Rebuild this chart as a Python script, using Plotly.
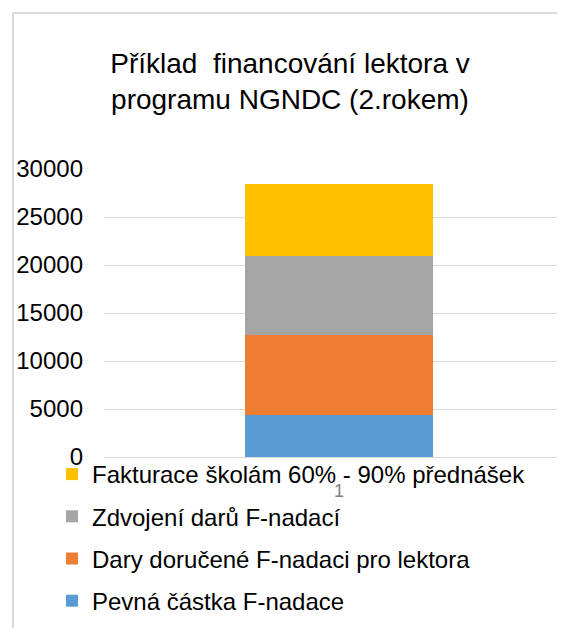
import plotly.graph_objects as go

categories = ["1"]
series_names = [
    "Pevná částka F-nadace",
    "Dary doručené F-nadaci pro lektora",
    "Zdvojení darů F-nadací",
    "Fakturace školám 60% - 90% přednášek",
]
series_values = [
    [4350],
    [8330],
    [8310],
    [7440],
]
series_colors = ["#5B9BD5", "#ED7D31", "#A5A5A5", "#FFC000"]
legend_ranks = [4, 3, 2, 1]
y_ticks = [0, 5000, 10000, 15000, 20000, 25000, 30000]

# page has an 8px body margin; figure coordinates are page coordinates minus 8
OFF = 8
W, H = 565 - OFF, 628 - OFF
ML, MR, MT = 104 - OFF, 0, 169 - OFF
MB = H - (457 - OFF)
pw, ph = W - ML - MR, H - MT - MB

fig = go.Figure()
for name, vals, col, rk in zip(series_names, series_values, series_colors, legend_ranks):
    fig.add_trace(go.Bar(
        x=categories, y=vals, name=name, marker_color=col,
        marker_line_width=0, legendgroup=name, legendrank=rk,
    ))

def px_x(x):
    return (x - ML) / pw

def px_y(y):
    return (H - MB - y) / ph

fig.update_layout(
    width=W, height=H,
    margin=dict(l=ML, r=MR, t=MT, b=MB, autoexpand=False),
    barmode="stack",
    bargap=0.592,
    paper_bgcolor="white",
    plot_bgcolor="white",
    font=dict(family="Liberation Sans, Arial, sans-serif", color="#000000"),
    title=dict(
        text="Příklad  financování lektora v<br>programu NGNDC (2.rokem)",
        font=dict(size=28, color="#000000"),
        x=282 / W, xanchor="center", xref="container",
        y=1 - 65 / H, yanchor="middle", yref="container",
    ),
    xaxis=dict(
        range=[-0.51, 0.49],
        showgrid=False, zeroline=False, showline=False,
        tickfont=dict(size=18, color="#808080"),
        ticks="", ticklabelstandoff=21,
    ),
    yaxis=dict(
        range=[0, 30000],
        tickvals=y_ticks,
        ticktext=[str(v) for v in y_ticks],
        showgrid=True, gridcolor="#d9d9d9", gridwidth=1,
        zeroline=True, zerolinecolor="#d9d9d9", zerolinewidth=1,
        showline=False,
        tickfont=dict(size=24, color="#000000"),
        ticklabelstandoff=20,
    ),
    legend=dict(
        orientation="v",
        x=px_x(44), xanchor="left",
        y=px_y(444), yanchor="top",
        font=dict(size=24, color="#000000"),
        traceorder="grouped",
        tracegroupgap=8,
        bgcolor="rgba(0,0,0,0)",
        itemwidth=30,
    ),
    showlegend=True,
    shapes=[
        dict(
            type="line", xref="paper", yref="paper",
            x0=px_x(5), x1=px_x(5),
            y0=px_y(H), y1=px_y(5),
            line=dict(color="#d9d9d9", width=2),
            layer="above",
        ),
        dict(
            type="line", xref="paper", yref="paper",
            x0=px_x(5), x1=px_x(W),
            y0=px_y(5), y1=px_y(5),
            line=dict(color="#d9d9d9", width=2),
            layer="above",
        ),
    ],
)

fig.write_html("out.html")
